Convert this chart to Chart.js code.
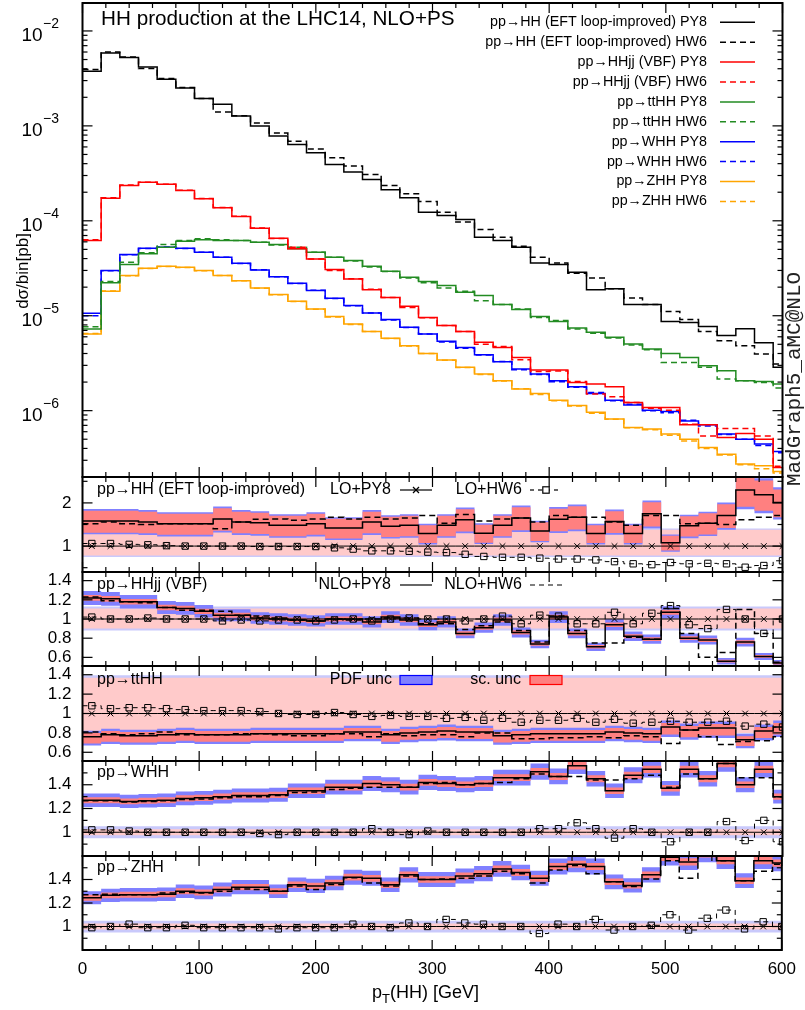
<!DOCTYPE html>
<html>
<head>
<meta charset="utf-8">
<script src="https://cdn.jsdelivr.net/npm/chart.js@4.4.1/dist/chart.umd.min.js"></script>
<style>
  body { margin: 0; background: #fff; }
  #wrap { position: relative; width: 805px; height: 1010px; }
  #wrap canvas { position: absolute; left: 0; top: 0; }
</style>
</head>
<body>
<div id="wrap">
  <canvas id="main" width="805" height="1010"></canvas>
  <canvas id="rHH" width="805" height="1010"></canvas>
  <canvas id="rVBF" width="805" height="1010"></canvas>
  <canvas id="rTT" width="805" height="1010"></canvas>
  <canvas id="rWH" width="805" height="1010"></canvas>
  <canvas id="rZH" width="805" height="1010"></canvas>
</div>
<script>
Chart.defaults.font.family = "'Liberation Sans', Arial, Helvetica, sans-serif";
Chart.defaults.color = "#000";

// pT(HH) bin edges [GeV], 16 GeV bins, the last one is cut by the axis at 600
var binEdges = [0, 16, 32, 48, 64, 80, 96, 112, 128, 144, 160, 176, 192, 208, 224, 240, 256, 272, 288,
  304, 320, 336, 352, 368, 384, 400, 416, 432, 448, 464, 480, 496, 512, 528, 544, 560, 576, 592, 608];
var xTicks = [0, 100, 200, 300, 400, 500, 600];

// main panel, dsigma/bin [pb]
var hhPY8 = [3.76e-3, 5.86e-3, 5.24e-3, 4.17e-3, 3.10e-3, 2.51e-3, 1.94e-3, 1.69e-3, 1.27e-3, 9.95e-4,
  7.8e-4, 6.37e-4, 5.21e-4, 3.93e-4, 3.26e-4, 2.73e-4, 2.12e-4, 1.75e-4, 1.23e-4, 1.14e-4,
  1.03e-4, 6.7e-5, 6.2e-5, 5.27e-5, 3.6e-5, 3.46e-5, 2.87e-5, 1.88e-5, 1.92e-5, 1.31e-5,
  1.31e-5, 8.7e-6, 8.5e-6, 7.7e-6, 6.2e-6, 7.3e-6, 5.2e-6, 2.86e-6];
var hhHW6 = [3.92e-3, 6.0e-3, 5.32e-3, 4.01e-3, 3.15e-3, 2.53e-3, 1.94e-3, 1.40e-3, 1.28e-3, 1.07e-3,
  8.4e-4, 6.87e-4, 5.69e-4, 4.62e-4, 3.77e-4, 3.08e-4, 2.36e-4, 1.93e-4, 1.6e-4, 1.23e-4,
  9.7e-5, 8.1e-5, 6.7e-5, 5.4e-5, 4.13e-5, 3.6e-5, 2.8e-5, 2.5e-5, 1.92e-5, 1.54e-5,
  1.31e-5, 1.11e-5, 9.1e-6, 6.84e-6, 5.46e-6, 4.84e-6, 3.95e-6, 3.1e-6];
var vbfPY8 = [6.2e-5, 1.73e-4, 2.36e-4, 2.54e-4, 2.42e-4, 2.09e-4, 1.71e-4, 1.37e-4, 1.11e-4, 8.35e-5,
  6.55e-5, 5.07e-5, 3.97e-5, 3.06e-5, 2.44e-5, 1.88e-5, 1.56e-5, 1.26e-5, 9.6e-6, 7.87e-6,
  6.8e-6, 5.24e-6, 4.64e-6, 3.64e-6, 2.68e-6, 2.68e-6, 1.98e-6, 1.91e-6, 1.79e-6, 1.22e-6,
  1.08e-6, 1.08e-6, 7.1e-7, 7.1e-7, 5.2e-7, 5.74e-7, 5.0e-7, 2.52e-7];
var vbfHW6 = [6.3e-5, 1.75e-4, 2.38e-4, 2.55e-4, 2.43e-4, 2.1e-4, 1.72e-4, 1.38e-4, 1.12e-4, 8.4e-5,
  6.5e-5, 5.27e-5, 3.97e-5, 3.0e-5, 2.45e-5, 1.9e-5, 1.56e-5, 1.22e-5, 9.5e-6, 7.87e-6,
  6.84e-6, 5.0e-6, 4.75e-6, 3.44e-6, 2.59e-6, 2.62e-6, 2.03e-6, 1.5e-6, 1.4e-6, 1.22e-6,
  1.06e-6, 1.01e-6, 7.2e-7, 5.4e-7, 6.5e-7, 6.5e-7, 5.4e-7, 2.6e-7];
var ttPY8 = [7.26e-6, 2.22e-5, 3.46e-5, 4.49e-5, 5.27e-5, 6.1e-5, 6.3e-5, 6.2e-5, 6.2e-5, 5.94e-5,
  5.62e-5, 5.07e-5, 4.67e-5, 4.13e-5, 3.81e-5, 3.32e-5, 2.94e-5, 2.54e-5, 2.29e-5, 2.08e-5,
  1.77e-5, 1.63e-5, 1.31e-5, 1.16e-5, 9.8e-6, 8.7e-6, 7.43e-6, 6.68e-6, 5.92e-6, 5.04e-6,
  4.47e-6, 4.01e-6, 3.64e-6, 2.98e-6, 2.64e-6, 2.07e-6, 2.03e-6, 1.91e-6];
var ttHW6 = [7.67e-6, 2.29e-5, 3.66e-5, 4.6e-5, 5.62e-5, 6.2e-5, 6.46e-5, 6.3e-5, 6.2e-5, 5.94e-5,
  5.55e-5, 5.27e-5, 4.67e-5, 4.13e-5, 3.77e-5, 3.27e-5, 2.92e-5, 2.5e-5, 2.22e-5, 1.96e-5,
  1.81e-5, 1.44e-5, 1.31e-5, 1.18e-5, 9.6e-6, 8.88e-6, 7.26e-6, 6.52e-6, 5.83e-6, 4.92e-6,
  4.39e-6, 3.22e-6, 3.22e-6, 2.86e-6, 2.15e-6, 2.07e-6, 1.98e-6, 1.73e-6];
var whPY8 = [1.06e-5, 2.99e-5, 4.41e-5, 5.14e-5, 5.27e-5, 5.14e-5, 4.67e-5, 4.13e-5, 3.57e-5, 3.04e-5,
  2.58e-5, 2.2e-5, 1.84e-5, 1.53e-5, 1.28e-5, 1.07e-5, 9.1e-6, 7.55e-6, 6.43e-6, 5.37e-6,
  4.64e-6, 3.89e-6, 3.28e-6, 2.75e-6, 2.43e-6, 2.07e-6, 1.79e-6, 1.52e-6, 1.29e-6, 1.15e-6,
  1.01e-6, 9.8e-7, 7.8e-7, 7.1e-7, 5.66e-7, 5.0e-7, 4.45e-7, 3.71e-7];
var whHW6 = [1.0e-5, 2.97e-5, 4.38e-5, 5.12e-5, 5.3e-5, 5.12e-5, 4.66e-5, 4.12e-5, 3.55e-5, 3.05e-5,
  2.57e-5, 2.19e-5, 1.85e-5, 1.52e-5, 1.27e-5, 1.07e-5, 9.0e-6, 7.5e-6, 6.4e-6, 5.3e-6,
  4.55e-6, 3.85e-6, 3.3e-6, 2.7e-6, 2.4e-6, 2.02e-6, 1.76e-6, 1.55e-6, 1.27e-6, 1.17e-6,
  1.0e-6, 9.5e-7, 7.9e-7, 6.9e-7, 5.6e-7, 5.0e-7, 4.3e-7, 3.6e-7];
var zhPY8 = [6.43e-6, 1.81e-5, 2.65e-5, 3.16e-5, 3.32e-5, 3.24e-5, 2.99e-5, 2.65e-5, 2.34e-5, 1.96e-5,
  1.67e-5, 1.42e-5, 1.18e-5, 9.8e-6, 8.19e-6, 6.84e-6, 5.78e-6, 4.84e-6, 4.01e-6, 3.42e-6,
  2.86e-6, 2.43e-6, 2.07e-6, 1.69e-6, 1.52e-6, 1.29e-6, 1.13e-6, 9.6e-7, 8.15e-7, 6.65e-7,
  6.4e-7, 5.66e-7, 5.0e-7, 4.09e-7, 3.48e-7, 2.74e-7, 2.62e-7, 2.29e-7];
var zhHW6 = [6.5e-6, 1.82e-5, 2.63e-5, 3.15e-5, 3.3e-5, 3.22e-5, 2.98e-5, 2.66e-5, 2.33e-5, 1.95e-5,
  1.66e-5, 1.41e-5, 1.17e-5, 9.7e-6, 8.1e-6, 6.8e-6, 5.75e-6, 4.8e-6, 4.0e-6, 3.4e-6,
  2.85e-6, 2.4e-6, 2.05e-6, 1.7e-6, 1.48e-6, 1.27e-6, 1.12e-6, 9.4e-7, 8.1e-7, 6.6e-7,
  6.3e-7, 5.5e-7, 4.8e-7, 4.0e-7, 3.4e-7, 2.7e-7, 2.45e-7, 2.2e-7];

// ratio panels, everything divided by LO+PY8
var hhNloPY8 = [1.58, 1.58, 1.58, 1.56, 1.52, 1.52, 1.52, 1.63, 1.56, 1.54, 1.48, 1.48, 1.52, 1.42, 1.42, 1.56, 1.46, 1.48, 1.29,
  1.48, 1.61, 1.30, 1.48, 1.65, 1.35, 1.62, 1.67, 1.29, 1.57, 1.29, 1.75, 1.08, 1.47, 1.53, 1.71, 2.30, 2.19, 2.01];
var hhNloHW6 = [1.52, 1.56, 1.52, 1.50, 1.52, 1.52, 1.52, 1.40, 1.56, 1.62, 1.63, 1.60, 1.63, 1.67, 1.63, 1.67, 1.63, 1.65, 1.71,
  1.53, 1.73, 1.58, 1.63, 1.65, 1.56, 1.71, 1.67, 1.67, 1.56, 1.48, 1.71, 1.71, 1.52, 1.53, 1.50, 1.61, 1.67, 1.71];
var hhLoHW6 = [1.06, 1.06, 1.04, 1.03, 1.01, 1.0, 1.0, 1.0, 1.0, 0.99, 0.99, 0.99, 0.99, 0.96, 0.93, 0.89, 0.89, 0.88, 0.86,
  0.85, 0.81, 0.76, 0.74, 0.74, 0.72, 0.70, 0.70, 0.68, 0.64, 0.59, 0.57, 0.62, 0.59, 0.60, 0.59, 0.51, 0.55, 0.66];

var vbfNloPY8 = [1.22, 1.21, 1.18, 1.18, 1.12, 1.11, 1.08, 1.04, 1.04, 1.01, 1.0, 0.99, 0.98, 1.0, 1.0, 0.97, 1.02, 0.99, 0.94,
  0.97, 0.85, 0.91, 0.99, 0.86, 0.74, 1.02, 0.85, 0.71, 0.94, 0.82, 0.79, 1.07, 0.80, 0.78, 0.56, 0.76, 0.61, 0.54];
var vbfNloHW6 = [1.23, 1.19, 1.18, 1.17, 1.12, 1.09, 1.09, 1.08, 1.04, 1.03, 1.01, 0.99, 0.98, 1.0, 0.99, 1.0, 1.01, 1.01, 0.95,
  0.95, 0.89, 0.93, 0.97, 0.88, 0.76, 1.03, 0.88, 0.75, 0.75, 0.81, 0.79, 1.11, 0.85, 0.60, 0.65, 1.10, 0.85, 0.55];
var vbfLoHW6 = [1.02, 1.0, 1.0, 1.01, 1.0, 1.0, 1.0, 0.98, 0.99, 0.98, 0.99, 0.99, 0.98, 0.99, 1.0, 0.98, 1.0, 1.01, 1.0,
  1.0, 0.98, 1.0, 1.03, 0.95, 1.04, 1.03, 0.95, 0.95, 1.07, 0.95, 1.06, 1.14, 0.94, 0.90, 1.10, 1.0, 0.85, 1.0];

var ttNloPY8 = [0.76, 0.78, 0.77, 0.77, 0.78, 0.79, 0.78, 0.78, 0.78, 0.79, 0.79, 0.79, 0.79, 0.79, 0.81, 0.81, 0.78, 0.80, 0.81,
  0.82, 0.81, 0.81, 0.77, 0.78, 0.79, 0.79, 0.79, 0.79, 0.81, 0.80, 0.79, 0.86, 0.83, 0.85, 0.85, 0.73, 0.82, 0.86];
var ttNloHW6 = [0.81, 0.79, 0.78, 0.79, 0.81, 0.78, 0.78, 0.78, 0.79, 0.79, 0.78, 0.77, 0.77, 0.79, 0.79, 0.76, 0.79, 0.77, 0.78,
  0.78, 0.76, 0.80, 0.80, 0.74, 0.74, 0.75, 0.75, 0.76, 0.75, 0.77, 0.76, 0.69, 0.83, 0.76, 0.68, 0.71, 0.72, 0.76];
var ttLoHW6 = [1.08, 1.05, 1.06, 1.06, 1.05, 1.04, 1.03, 1.03, 1.03, 1.02, 1.0, 0.99, 0.99, 1.01, 0.99, 0.97, 0.98, 0.97, 0.97,
  0.95, 0.96, 0.93, 0.95, 0.91, 0.93, 0.93, 0.95, 0.91, 0.94, 0.90, 0.91, 0.92, 0.91, 0.91, 0.92, 0.87, 0.89, 0.86];

var whNloPY8 = [1.27, 1.27, 1.26, 1.265, 1.27, 1.285, 1.29, 1.30, 1.31, 1.31, 1.315, 1.35, 1.35, 1.38, 1.38, 1.41, 1.40, 1.38, 1.42,
  1.41, 1.40, 1.41, 1.46, 1.46, 1.51, 1.47, 1.56, 1.45, 1.35, 1.48, 1.53, 1.37, 1.53, 1.45, 1.58, 1.40, 1.53, 1.30];
var whNloHW6 = [1.265, 1.265, 1.255, 1.26, 1.265, 1.275, 1.28, 1.29, 1.30, 1.30, 1.31, 1.335, 1.34, 1.36, 1.37, 1.38, 1.38, 1.38, 1.41,
  1.42, 1.40, 1.41, 1.42, 1.45, 1.49, 1.47, 1.47, 1.44, 1.44, 1.45, 1.48, 1.38, 1.49, 1.45, 1.58, 1.46, 1.46, 1.30];
var whLoHW6 = [1.02, 1.02, 1.01, 1.0, 1.0, 1.0, 1.0, 1.0, 1.0, 0.99, 0.98, 1.0, 1.0, 1.0, 1.0, 1.03, 1.0, 0.98, 1.01,
  1.0, 1.0, 1.0, 1.0, 1.0, 1.03, 1.03, 1.08, 1.03, 0.95, 1.03, 1.0, 0.92, 1.0, 1.0, 1.09, 0.93, 1.10, 0.92];

var zhNloPY8 = [1.245, 1.265, 1.27, 1.27, 1.275, 1.30, 1.29, 1.315, 1.335, 1.335, 1.30, 1.355, 1.345, 1.37, 1.42, 1.41, 1.355, 1.44, 1.40,
  1.40, 1.43, 1.45, 1.49, 1.46, 1.41, 1.51, 1.53, 1.51, 1.38, 1.35, 1.44, 1.59, 1.55, 1.62, 1.56, 1.39, 1.56, 1.54];
var zhNloHW6 = [1.27, 1.275, 1.27, 1.27, 1.285, 1.29, 1.285, 1.30, 1.32, 1.315, 1.30, 1.345, 1.315, 1.357, 1.415, 1.37, 1.345, 1.43, 1.40,
  1.405, 1.41, 1.43, 1.47, 1.45, 1.37, 1.48, 1.52, 1.45, 1.38, 1.34, 1.405, 1.56, 1.41, 1.60, 1.56, 1.39, 1.47, 1.53];
var zhLoHW6 = [0.99, 1.0, 1.02, 0.99, 0.99, 1.01, 0.99, 0.99, 0.99, 0.99, 0.98, 0.99, 0.99, 0.99, 1.02, 1.0, 0.99, 1.03, 1.0,
  1.06, 1.03, 1.02, 1.0, 1.0, 0.94, 1.02, 1.0, 1.06, 0.97, 1.0, 1.01, 1.10, 0.97, 1.07, 1.14, 0.98, 1.04, 1.0];

// relative uncertainties: [up, down] for scale, extra width for PDF
var hhNloScale = [0.15, 0.17], hhNloPdf = 0.025, hhLoScale = [0.38, 0.22], hhLoPdf = 0.03;
var vbfNloScale = [0.025, 0.025], vbfNloPdf = 0.035, vbfLoScale = [0.11, 0.10], vbfLoPdf = 0.02;
var ttNloScale = [0.05, 0.09], ttNloPdf = 0.03, ttLoScale = [0.37, 0.2], ttLoPdf = 0.025;
var whNloScale = [0.02, 0.02], whNloPdf = 0.025, whLoScale = [0.025, 0.025], whLoPdf = 0.025;
var zhNloScale = [0.02, 0.02], zhNloPdf = 0.025, zhLoScale = [0.025, 0.025], zhLoPdf = 0.025;

// LO+PY8 is the reference of every ratio panel
var loRef = binEdges.slice(1).map(function () { return 1; });

function histo(vals) {
  return binEdges.map(function (x, i) { return { x: x, y: vals[Math.min(i, vals.length - 1)] }; });
}
function centres(vals) {
  return vals.map(function (v, i) { return { x: (binEdges[i] + binEdges[i + 1]) / 2, y: v }; });
}
function line(ctx, x1, y1, x2, y2) {
  ctx.beginPath(); ctx.moveTo(x1, y1); ctx.lineTo(x2, y2); ctx.stroke();
}

var framePlugin = {
  id: "frame",
  afterDraw: function (chart, args, opts) {
    var ctx = chart.ctx, a = chart.chartArea, xs = chart.scales.x, ys = chart.scales.y;
    ctx.save();
    ctx.strokeStyle = "#000";
    ctx.lineWidth = 1.2;
    ctx.setLineDash([]);
    for (var v = 0; v <= 600; v += 20) {
      var px = xs.getPixelForValue(v), len = v % 100 === 0 ? 10 : 5;
      line(ctx, px, a.bottom, px, a.bottom - len);
      line(ctx, px, a.top, px, a.top + len);
    }
    (opts.major || []).forEach(function (t) {
      var py = ys.getPixelForValue(t);
      line(ctx, a.left, py, a.left + 10, py);
      line(ctx, a.right, py, a.right - 10, py);
    });
    (opts.minor || []).forEach(function (t) {
      var py = ys.getPixelForValue(t);
      line(ctx, a.left, py, a.left + 5, py);
      line(ctx, a.right, py, a.right - 5, py);
    });
    ctx.lineWidth = 2;
    ctx.strokeRect(a.left, a.top, a.right - a.left, a.bottom - a.top);
    ctx.restore();
  }
};

// ---------- main panel ----------
var procs = [
  ["pp\u2192HH (EFT loop-improved)", hhPY8, hhHW6, "#000000"],
  ["pp\u2192HHjj (VBF)", vbfPY8, vbfHW6, "#ff0000"],
  ["pp\u2192ttHH", ttPY8, ttHW6, "#228b22"],
  ["pp\u2192WHH", whPY8, whHW6, "#0000ff"],
  ["pp\u2192ZHH", zhPY8, zhHW6, "#ffa500"]
];
var mainSets = [];
procs.forEach(function (p) {
  mainSets.push({ label: p[0] + " PY8", data: histo(p[1]), borderColor: p[3], borderWidth: 1.5,
    stepped: "before", pointRadius: 0, fill: false });
  mainSets.push({ label: p[0] + " HW6", data: histo(p[2]), borderColor: p[3], borderWidth: 1.5,
    borderDash: [6, 4], stepped: "before", pointRadius: 0, fill: false });
});

var logMajor = [1e-6, 1e-5, 1e-4, 1e-3, 1e-2];
var logMinor = [];
[1e-7, 1e-6, 1e-5, 1e-4, 1e-3, 1e-2].forEach(function (d) {
  for (var m = 2; m <= 9; m++) { if (m * d > 2e-7 && m * d < 0.0197) logMinor.push(m * d); }
});

var mainDeco = {
  id: "mainDeco",
  afterDraw: function (chart) {
    var ctx = chart.ctx, ys = chart.scales.y;
    ctx.save();
    ctx.fillStyle = "#000";
    // y tick labels 10^n
    logMajor.forEach(function (v) {
      var py = ys.getPixelForValue(v);
      var e = String(Math.round(Math.log10(v))).replace("-", "\u2212");
      ctx.font = "14px 'Liberation Sans', Arial, sans-serif";
      var we = ctx.measureText(e).width;
      ctx.textAlign = "left"; ctx.textBaseline = "middle";
      ctx.fillText(e, 59 - we, py - 7);
      ctx.font = "19px 'Liberation Sans', Arial, sans-serif";
      ctx.textAlign = "right";
      ctx.fillText("10", 58.5 - we, py + 5);
    });
    // title
    ctx.font = "20.7px 'Liberation Sans', Arial, sans-serif";
    ctx.textAlign = "left"; ctx.textBaseline = "middle";
    ctx.fillText("HH production at the LHC14, NLO+PS", 101, 19);
    // legend from datasets
    ctx.font = "14.3px 'Liberation Sans', Arial, sans-serif";
    chart.data.datasets.forEach(function (ds, i) {
      var y = 22.3 + i * 19.9;
      ctx.fillStyle = "#000";
      ctx.textAlign = "right";
      ctx.fillText(ds.label, 707, y);
      ctx.strokeStyle = ds.borderColor;
      ctx.lineWidth = 1.5;
      ctx.setLineDash(ds.borderDash || []);
      line(ctx, 720, y, 755, y);
    });
    ctx.setLineDash([]);
    // axis title
    ctx.fillStyle = "#000";
    ctx.font = "17px 'Liberation Sans', Arial, sans-serif";
    ctx.translate(23, 271);
    ctx.rotate(-Math.PI / 2);
    ctx.textAlign = "center";
    ctx.fillText("d\u03c3/bin[pb]", 0, 0);
    ctx.restore();
    // program tag
    ctx.save();
    ctx.fillStyle = "#222";
    ctx.font = "21px 'Liberation Mono', 'DejaVu Sans Mono', monospace";
    ctx.translate(794, 379);
    ctx.rotate(-Math.PI / 2);
    ctx.textAlign = "center"; ctx.textBaseline = "middle";
    ctx.fillText("MadGraph5_aMC@NLO", 0, 0);
    ctx.restore();
  }
};

new Chart(document.getElementById("main"), {
  type: "line",
  data: { datasets: mainSets },
  options: {
    responsive: false, animation: false, devicePixelRatio: 1, events: [],
    layout: { padding: { left: 0, right: 22.5, top: 3, bottom: 1010 - 477 } },
    plugins: { legend: { display: false }, tooltip: { enabled: false },
      frame: { major: logMajor, minor: logMinor } },
    scales: {
      x: { type: "linear", min: 0, max: 600, display: false },
      y: { type: "logarithmic", min: 2e-7, max: 0.0197,
        grid: { display: false, drawTicks: false }, border: { display: false },
        ticks: { display: false },
        afterFit: function (s) { s.width = 82.5; } }
    }
  },
  plugins: [framePlugin, mainDeco]
});

// ---------- ratio panels ----------
function bandSets(centre, sc, pdf, inner, outer, order) {
  var lowO = centre.map(function (v) { return v * (1 - sc[1] - pdf); });
  var upO = centre.map(function (v) { return v * (1 + sc[0] + pdf); });
  var lowI = centre.map(function (v) { return v * (1 - sc[1]); });
  var upI = centre.map(function (v) { return v * (1 + sc[0]); });
  var base = { borderWidth: 0, pointRadius: 0, stepped: "before" };
  return [
    Object.assign({ data: histo(lowO), fill: false, order: order + 1 }, base),
    Object.assign({ data: histo(upO), fill: "-1", backgroundColor: outer, order: order + 1 }, base),
    Object.assign({ data: histo(lowI), fill: false, order: order }, base),
    Object.assign({ data: histo(upI), fill: "-1", backgroundColor: inner, order: order }, base)
  ];
}

function ratioChart(id, top, bottom, yMin, yMax, labelTicks, minorTicks, r, deco, isBottom) {
  var sets = []
    .concat(bandSets(loRef, r.loSc, r.loPdf, "#ffcaca", "#c9c9fb", 20))
    .concat(bandSets(r.nlo, r.nloSc, r.nloPdf, "#ff8080", "#8080ff", 16));
  sets.push({ data: histo(loRef), borderColor: "#000", borderWidth: 1, stepped: "before", pointRadius: 0, fill: false, order: 6 });
  sets.push({ data: centres(loRef), showLine: false, pointStyle: "crossRot", pointRadius: 4,
    pointBorderColor: "#000", pointBorderWidth: 1, order: 5 });
  sets.push({ data: histo(r.loHW), borderColor: "#000", borderWidth: 1, borderDash: [5, 4], stepped: "before",
    pointRadius: 0, fill: false, order: 6 });
  sets.push({ data: centres(r.loHW), showLine: false, pointStyle: "rect", pointRadius: 4.5,
    pointBorderColor: "#000", pointBackgroundColor: "rgba(0,0,0,0)", pointBorderWidth: 1, order: 5 });
  sets.push({ data: histo(r.nlo), borderColor: "#000", borderWidth: 1.5, stepped: "before", pointRadius: 0, fill: false, order: 2 });
  sets.push({ data: histo(r.nloHW), borderColor: "#000", borderWidth: 1.5, borderDash: [6, 4], stepped: "before",
    pointRadius: 0, fill: false, order: 2 });

  var xScale = { type: "linear", min: 0, max: 600, display: false };
  var bottomPad = 1010 - bottom;
  if (isBottom) {
    xScale = { type: "linear", min: 0, max: 600, display: true, position: "bottom",
      grid: { display: false, drawTicks: false }, border: { display: false },
      ticks: { font: { size: 17 }, padding: 9, autoSkip: false, maxRotation: 0,
        callback: function (v) { return String(v); } },
      afterBuildTicks: function (s) { s.ticks = xTicks.map(function (v) { return { value: v }; }); },
      afterFit: function (s) { s.height = 30; } };
    bottomPad = 1010 - bottom - 30;
  }
  return new Chart(document.getElementById(id), {
    type: "line",
    data: { datasets: sets },
    options: {
      responsive: false, animation: false, devicePixelRatio: 1, events: [],
      layout: { padding: { left: 0, right: 22.5, top: top, bottom: bottomPad } },
      plugins: { legend: { display: false }, tooltip: { enabled: false },
        frame: { major: labelTicks, minor: minorTicks } },
      scales: {
        x: xScale,
        y: { type: "linear", min: yMin, max: yMax,
          grid: { display: false, drawTicks: false }, border: { display: false },
          ticks: { font: { size: 17 }, padding: 11, callback: function (v) { return String(v); } },
          afterBuildTicks: function (s) { s.ticks = labelTicks.map(function (v) { return { value: v }; }); },
          afterFit: function (s) { s.width = 82.5; } }
      }
    },
    plugins: [framePlugin, deco]
  });
}

function panelText(ctx, txt, y) {
  ctx.font = "16px 'Liberation Sans', Arial, sans-serif";
  ctx.fillStyle = "#000"; ctx.textAlign = "left"; ctx.textBaseline = "middle";
  ctx.fillText(txt, 97, y);
}
function keyText(ctx, txt, xr, y) {
  ctx.font = "16px 'Liberation Sans', Arial, sans-serif";
  ctx.fillStyle = "#000"; ctx.textAlign = "right"; ctx.textBaseline = "middle";
  ctx.fillText(txt, xr, y);
}
function keyLine(ctx, x1, x2, y, dash, marker) {
  ctx.strokeStyle = "#000"; ctx.lineWidth = 1.2; ctx.setLineDash(dash);
  line(ctx, x1, y, x2, y);
  ctx.setLineDash([]);
  var xm = (x1 + x2) / 2;
  if (marker === "x") { line(ctx, xm - 3, y - 3, xm + 3, y + 3); line(ctx, xm - 3, y + 3, xm + 3, y - 3); }
  if (marker === "s") { ctx.fillStyle = "#fff"; ctx.fillRect(xm - 3.2, y - 3.2, 6.4, 6.4); ctx.strokeRect(xm - 3.2, y - 3.2, 6.4, 6.4); }
}

ratioChart("rHH", 477, 572, 0.4, 2.6, [1, 2], [0.5, 1.5, 2.5],
  { nlo: hhNloPY8, nloHW: hhNloHW6, loHW: hhLoHW6, nloSc: hhNloScale, nloPdf: hhNloPdf, loSc: hhLoScale, loPdf: hhLoPdf },
  { id: "decoHH", afterDraw: function (c) {
      var ctx = c.ctx; ctx.save();
      panelText(ctx, "pp\u2192HH (EFT loop-improved)", 490);
      keyText(ctx, "LO+PY8", 391, 490); keyLine(ctx, 400, 432, 490, [], "x");
      keyText(ctx, "LO+HW6", 522, 490); keyLine(ctx, 530, 562, 490, [4, 4], "s");
      ctx.restore(); } });

ratioChart("rVBF", 572, 666, 0.51, 1.49, [0.6, 0.8, 1, 1.2, 1.4], [],
  { nlo: vbfNloPY8, nloHW: vbfNloHW6, loHW: vbfLoHW6, nloSc: vbfNloScale, nloPdf: vbfNloPdf, loSc: vbfLoScale, loPdf: vbfLoPdf },
  { id: "decoVBF", afterDraw: function (c) {
      var ctx = c.ctx; ctx.save();
      panelText(ctx, "pp\u2192HHjj (VBF)", 585);
      keyText(ctx, "NLO+PY8", 391, 585); keyLine(ctx, 400, 432, 585, [], "");
      keyText(ctx, "NLO+HW6", 522, 585); keyLine(ctx, 530, 562, 585, [5, 4], "");
      ctx.restore(); } });

ratioChart("rTT", 666, 761, 0.51, 1.49, [0.6, 0.8, 1, 1.2, 1.4], [],
  { nlo: ttNloPY8, nloHW: ttNloHW6, loHW: ttLoHW6, nloSc: ttNloScale, nloPdf: ttNloPdf, loSc: ttLoScale, loPdf: ttLoPdf },
  { id: "decoTT", afterDraw: function (c) {
      var ctx = c.ctx; ctx.save();
      panelText(ctx, "pp\u2192ttHH", 680);
      keyText(ctx, "PDF unc", 392, 680);
      ctx.fillStyle = "#8080ff"; ctx.fillRect(400, 675.5, 32, 9);
      ctx.strokeStyle = "#0000ff"; ctx.lineWidth = 1.2; ctx.strokeRect(400, 675.5, 32, 9);
      keyText(ctx, "sc. unc", 521, 680);
      ctx.fillStyle = "#ff8080"; ctx.fillRect(530, 675.5, 32, 9);
      ctx.strokeStyle = "#ff0000"; ctx.strokeRect(530, 675.5, 32, 9);
      ctx.restore(); } });

ratioChart("rWH", 761, 856, 0.8, 1.6, [1, 1.2, 1.4], [0.9, 1.1, 1.3, 1.5],
  { nlo: whNloPY8, nloHW: whNloHW6, loHW: whLoHW6, nloSc: whNloScale, nloPdf: whNloPdf, loSc: whLoScale, loPdf: whLoPdf },
  { id: "decoWH", afterDraw: function (c) {
      var ctx = c.ctx; ctx.save();
      panelText(ctx, "pp\u2192WHH", 773);
      ctx.restore(); } });

ratioChart("rZH", 856, 950, 0.8, 1.6, [1, 1.2, 1.4], [0.9, 1.1, 1.3, 1.5],
  { nlo: zhNloPY8, nloHW: zhNloHW6, loHW: zhLoHW6, nloSc: zhNloScale, nloPdf: zhNloPdf, loSc: zhLoScale, loPdf: zhLoPdf },
  { id: "decoZH", afterDraw: function (c) {
      var ctx = c.ctx; ctx.save();
      panelText(ctx, "pp\u2192ZHH", 868);
      // x axis title p_T(HH) [GeV]
      ctx.fillStyle = "#000"; ctx.textAlign = "left"; ctx.textBaseline = "alphabetic";
      ctx.font = "18px 'Liberation Sans', Arial, sans-serif";
      var x0 = 372;
      ctx.fillText("p", x0, 998);
      var wp = ctx.measureText("p").width;
      ctx.font = "13px 'Liberation Sans', Arial, sans-serif";
      ctx.fillText("T", x0 + wp, 1003);
      var wt = ctx.measureText("T").width;
      ctx.font = "18px 'Liberation Sans', Arial, sans-serif";
      ctx.fillText("(HH) [GeV]", x0 + wp + wt, 998);
      ctx.restore(); } }, true);
</script>
</body>
</html>
